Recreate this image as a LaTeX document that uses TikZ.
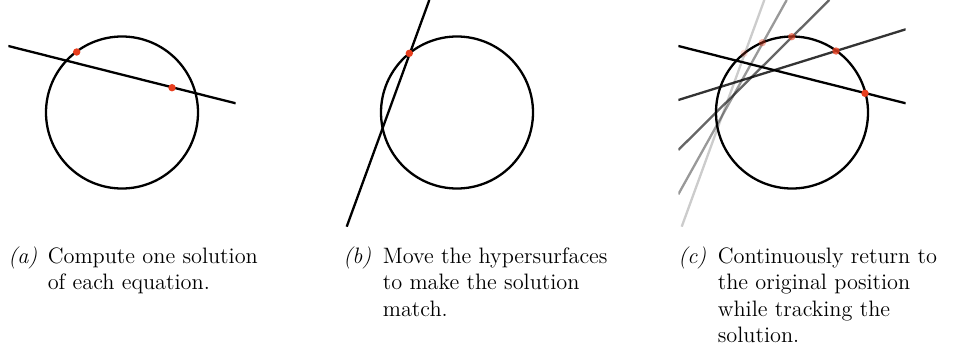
\documentclass[tikz,border=0pt]{standalone}
\usepackage{xcolor}

\definecolor{solred}{RGB}{232,62,30}

\tikzset{
  curve/.style={line width=1.2pt},
  sol/.style={fill=solred},
  subcap/.style={anchor=north west, inner sep=0pt, align=left, font=\fontsize{11.6}{13.7}\selectfont}
}

\newcommand{\sublabel}[1]{\makebox[20.5pt][l]{\textit{(#1)}}}
\newcommand{\subindent}{\hspace*{20.5pt}}

\begin{document}
\begin{tikzpicture}[x=0.52pt,y=-0.52pt]
		\useasboundingbox (0,0) rectangle (968,361);
		
		% (a) one solution of each equation
		\begin{scope}
			\clip (8.3,0) rectangle (235.7,226.7);
			\coordinate (Oa) at (122,112.5);
			\coordinate (A1) at (8.3,46);
			\coordinate (A2) at (235.7,103.3);
			\coordinate (Pa) at (76.7,52);
			\coordinate (Qa) at (172,87.7);
			
			\draw[curve] (Oa) circle[radius=76];
			\draw[curve] (A1) -- (A2);
			\fill[sol] (Pa) circle[radius=3.7];
			\fill[sol] (Qa) circle[radius=3.7];
		\end{scope}
		
		% (b) moved hypersurface
		\begin{scope}[shift={(335,0)}]
			\clip (8.3,0) rectangle (235.7,226.7);
			\coordinate (Ob) at (122,112.5);
			\coordinate (B1) at (11.7,226.7);
			\coordinate (B2) at (94.3,0);
			\coordinate (Pb) at (74.3,53.3);
			
			\draw[curve] (Ob) circle[radius=76];
			\draw[curve] (B1) -- (B2);
			\fill[sol] (Pb) circle[radius=3.7];
		\end{scope}
		
		% (c) tracking back to the start
		\begin{scope}[shift={(670,0)}]
			\clip (8.3,0) rectangle (235.7,226.7);
			\coordinate (Oc) at (122,112.5);
			\coordinate (C1) at (8.3,46);
			\coordinate (C2) at (235.7,103.3);
			\coordinate (D1) at (8.3,100);
			\coordinate (D2) at (235.7,29.3);
			\coordinate (E1) at (8.3,150);
			\coordinate (E2) at (159.3,0);
			\coordinate (F1) at (8.3,194.3);
			\coordinate (F2) at (116.7,0);
			\coordinate (G1) at (11.7,226.7);
			\coordinate (G2) at (94.3,0);
			
			\draw[curve] (Oc) circle[radius=76];
			\draw[curve, opacity=0.2] (G1) -- (G2);
			\draw[curve, opacity=0.4] (F1) -- (F2);
			\draw[curve, opacity=0.6] (E1) -- (E2);
			\draw[curve, opacity=0.8] (D1) -- (D2);
			\draw[curve] (C1) -- (C2);
			
			\fill[sol, opacity=0.2] (74,53.3) circle[radius=3.7];
			\fill[sol, opacity=0.4] (92.3,42.7) circle[radius=3.7];
			\fill[sol, opacity=0.6] (121.7,36.7) circle[radius=3.7];
			\fill[sol, opacity=0.8] (166,51) circle[radius=3.7];
			\fill[sol] (195,93.3) circle[radius=3.7];
		\end{scope}
		
		% Captions
		\node[subcap] (capa) at (8,246.5)
			{\sublabel{a}Compute one solution\\\subindent of each equation.};
		\node[subcap] (capb) at (343,246.5)
			{\sublabel{b}Move the hypersurfaces\\\subindent to make the solution\\\subindent match.};
		\node[subcap] (capc) at (678,246.5)
			{\sublabel{c}Continuously return to\\\subindent the original position\\\subindent while tracking the\\\subindent solution.};
		
	\end{tikzpicture}
\end{document}
